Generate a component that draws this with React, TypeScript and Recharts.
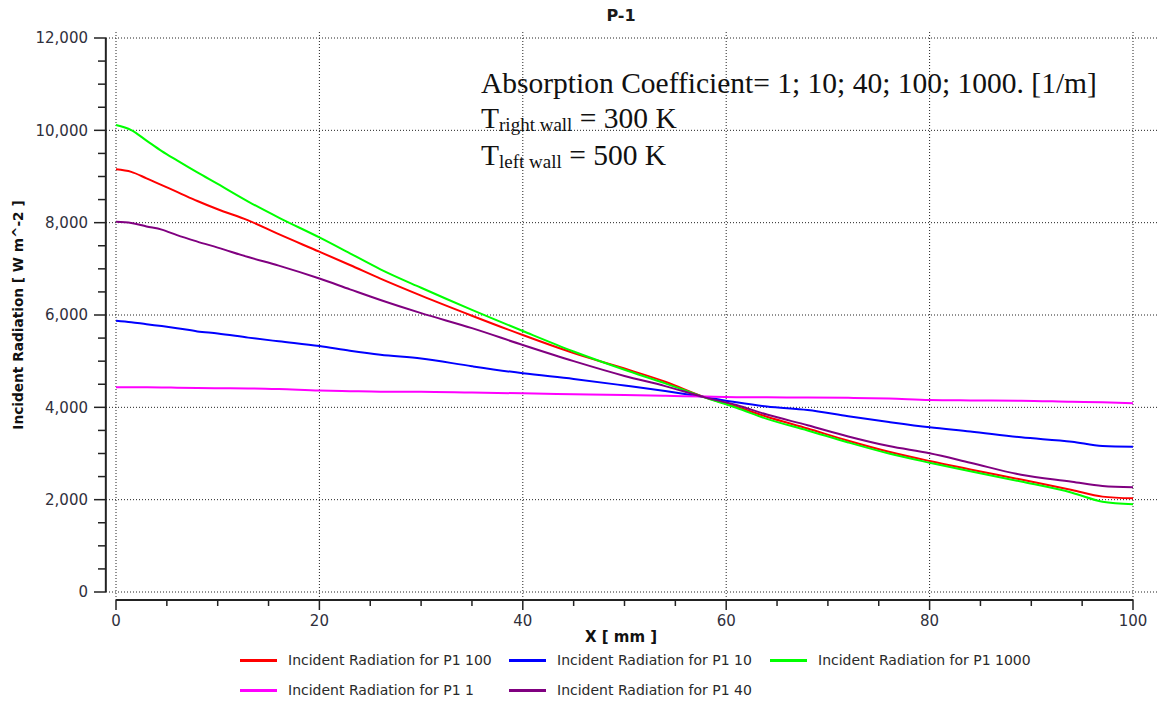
import React from 'react';
import { LineChart, Line, XAxis, YAxis, CartesianGrid, ReferenceLine, Legend } from 'recharts';

// X positions [mm]
const xMm = [0, 1.5, 3, 4.5, 6, 8, 10, 13, 16, 20, 23, 26, 30, 35, 40, 45, 50, 54, 58, 61, 64, 68, 72, 76, 80, 84, 89, 94, 97, 100];

// Incident radiation [W m^-2] per absorption coefficient
const p1_100 = [9155, 9100, 8960, 8812, 8668, 8469, 8290, 8049, 7750, 7371, 7083, 6788, 6420, 5985, 5566, 5175, 4840, 4555, 4210, 4015, 3796, 3540, 3276, 3037, 2837, 2655, 2435, 2209, 2066, 2029];
const p1_10 = [5877, 5845, 5800, 5760, 5715, 5645, 5600, 5510, 5430, 5328, 5227, 5140, 5058, 4890, 4737, 4615, 4472, 4352, 4218, 4110, 4017, 3940, 3807, 3682, 3567, 3475, 3350, 3255, 3162, 3147];
const p1_1000 = [10115, 10006, 9778, 9550, 9348, 9087, 8838, 8457, 8110, 7680, 7336, 6990, 6590, 6110, 5653, 5210, 4815, 4520, 4205, 3990, 3750, 3500, 3240, 3000, 2801, 2615, 2392, 2151, 1956, 1900];
const p1_1 = [4434, 4434, 4434, 4432, 4425, 4418, 4414, 4410, 4395, 4362, 4350, 4340, 4338, 4320, 4303, 4285, 4267, 4250, 4232, 4220, 4216, 4214, 4205, 4190, 4159, 4150, 4144, 4120, 4108, 4087];
const p1_40 = [8020, 7995, 7918, 7850, 7730, 7590, 7460, 7255, 7070, 6790, 6556, 6325, 6040, 5715, 5350, 5000, 4680, 4460, 4210, 4050, 3843, 3612, 3370, 3161, 3004, 2800, 2540, 2389, 2296, 2268];

const seriesNames = [
  'Incident Radiation for P1 100',
  'Incident Radiation for P1 10',
  'Incident Radiation for P1 1000',
  'Incident Radiation for P1 1',
  'Incident Radiation for P1 40',
];
const seriesKeys = ['p100', 'p10', 'p1000', 'p1', 'p40'];
const seriesColors = ['#ff0000', '#0000ff', '#00ff00', '#ff00ff', '#800080'];
const seriesValues = [p1_100, p1_10, p1_1000, p1_1, p1_40];

const yTicks = [0, 500, 1000, 1500, 2000, 2500, 3000, 3500, 4000, 4500, 5000, 5500, 6000, 6500, 7000, 7500, 8000, 8500, 9000, 9500, 10000, 10500, 11000, 11500, 12000];
const yMajorTicks = [0, 2000, 4000, 6000, 8000, 10000, 12000];
const xTicks = [0, 5, 10, 15, 20, 25, 30, 35, 40, 45, 50, 55, 60, 65, 70, 75, 80, 85, 90, 95, 100];
const xMajorTicks = [0, 20, 40, 60, 80, 100];

const data = xMm.map((x, i) => {
  const row: Record<string, number> = { x };
  seriesKeys.forEach((k, j) => {
    row[k] = seriesValues[j][i];
  });
  return row;
});

const fmt = (v: number) => String(v).replace(/\B(?=(\d{3})+(?!\d))/g, ',');

const TICK_FONT = 'DejaVu Sans, Verdana, sans-serif';
const TICK_COLOR = '#30303c';

const YTick = (props: any) => {
  const { x, y, payload } = props;
  const v = payload.value;
  const major = yMajorTicks.includes(v);
  return (
    <g>
      <line x1={x - (major ? 12 : 8)} x2={x} y1={y} y2={y} stroke="#222" strokeWidth={1.5} />
      {major && (
        <text x={x - 18} y={y} dy="0.36em" textAnchor="end" fontFamily={TICK_FONT} fontSize={15} fill={TICK_COLOR}>
          {fmt(v)}
        </text>
      )}
    </g>
  );
};

const XTick = (props: any) => {
  const { x, y, payload } = props;
  const v = payload.value;
  const major = xMajorTicks.includes(v);
  return (
    <g>
      <line x1={x} x2={x} y1={y} y2={y + (major ? 10 : 6)} stroke="#222" strokeWidth={1.5} />
      {major && (
        <text x={x} y={y + 26} textAnchor="middle" fontFamily={TICK_FONT} fontSize={15} fill={TICK_COLOR}>
          {fmt(v)}
        </text>
      )}
    </g>
  );
};

const legendLeft = [240, 509, 770];

const LegendContent = () => (
  <div style={{ position: 'relative', width: 1159, height: 56, fontFamily: TICK_FONT, fontSize: 14, color: '#2a2a2a' }}>
    {seriesNames.map((name, i) => (
      <div
        key={name}
        style={{
          position: 'absolute',
          left: legendLeft[i % 3],
          top: Math.floor(i / 3) * 30,
          height: 24,
          display: 'flex',
          alignItems: 'center',
          whiteSpace: 'nowrap',
        }}
      >
        <div style={{ width: 37, height: 3, background: seriesColors[i], marginRight: 11 }} />
        <span>{name}</span>
      </div>
    ))}
  </div>
);

export default function App() {
  return (
    <div style={{ position: 'relative', width: 1159, height: 703, background: '#fff' }}>
      <style>{`body{margin:0;}`}</style>
      <LineChart width={1159} height={703} data={data} margin={{ top: 32, right: 0, bottom: 63, left: 0 }}>
        <CartesianGrid
          stroke="#222"
          strokeDasharray="1 2"
          horizontalValues={yMajorTicks}
          verticalValues={xMajorTicks}
        />
        <XAxis
          dataKey="x"
          type="number"
          domain={[0, 100]}
          ticks={xTicks}
          interval={0}
          height={40}
          padding={{ left: 10, right: 26 }}
          axisLine={false}
          tickLine={false}
          tickSize={0}
          tickMargin={0}
          tick={<XTick />}
        />
        <YAxis
          type="number"
          domain={[0, 12000]}
          ticks={yTicks}
          interval={0}
          width={106}
          padding={{ top: 6, bottom: 8 }}
          axisLine={false}
          tickLine={false}
          tickSize={0}
          tickMargin={0}
          tick={<YTick />}
        />
        {/* axis lines drawn through the axis scales: x=-1 lies on the left plot edge, y=-173 on the bottom edge */}
        <ReferenceLine segment={[{ x: -1, y: 0 }, { x: -1, y: 12000 }]} ifOverflow="visible" stroke="#222" strokeWidth={2} />
        <ReferenceLine segment={[{ x: 0, y: -173 }, { x: 100, y: -173 }]} ifOverflow="visible" stroke="#222" strokeWidth={2} />
        {seriesKeys.map((k, j) => (
          <Line
            key={k}
            type="monotone"
            dataKey={k}
            name={seriesNames[j]}
            stroke={seriesColors[j]}
            strokeWidth={2}
            dot={false}
            activeDot={false}
            isAnimationActive={false}
          />
        ))}
        <Legend
          layout="horizontal"
          verticalAlign="middle"
          align="center"
          wrapperStyle={{ top: 648, left: 0, width: 1159 }}
          content={<LegendContent />}
        />
      </LineChart>
      <svg width={1159} height={703} style={{ position: 'absolute', left: 0, top: 0, pointerEvents: 'none' }}>
        <text x={621} y={21} textAnchor="middle" fontFamily={TICK_FONT} fontWeight="bold" fontSize={16} fill="#1a1a1a">
          P-1
        </text>
        <text
          x={23}
          y={315}
          textAnchor="middle"
          transform="rotate(-90 23 315)"
          fontFamily={TICK_FONT}
          fontWeight="bold"
          fontSize={13.7}
          fill="#111"
        >
          Incident Radiation [ W m^-2 ]
        </text>
        <text x={621} y={642} textAnchor="middle" fontFamily={TICK_FONT} fontWeight="bold" fontSize={15} fill="#111">
          X [ mm ]
        </text>
        <g fontFamily="Liberation Serif, Times New Roman, serif" fill="#111">
          <text x={481} y={93} fontSize={29.5}>
            Absorption Coefficient= 1; 10; 40; 100; 1000. [1/m]
          </text>
          <text x={481} y={128} fontSize={29.5}>
            T<tspan fontSize={19} dy={3}>right wall</tspan>
            <tspan dy={-3}> = 300 K</tspan>
          </text>
          <text x={481} y={165} fontSize={29.5}>
            T<tspan fontSize={19} dy={3}>left wall</tspan>
            <tspan dy={-3}> = 500 K</tspan>
          </text>
        </g>
      </svg>
    </div>
  );
}
